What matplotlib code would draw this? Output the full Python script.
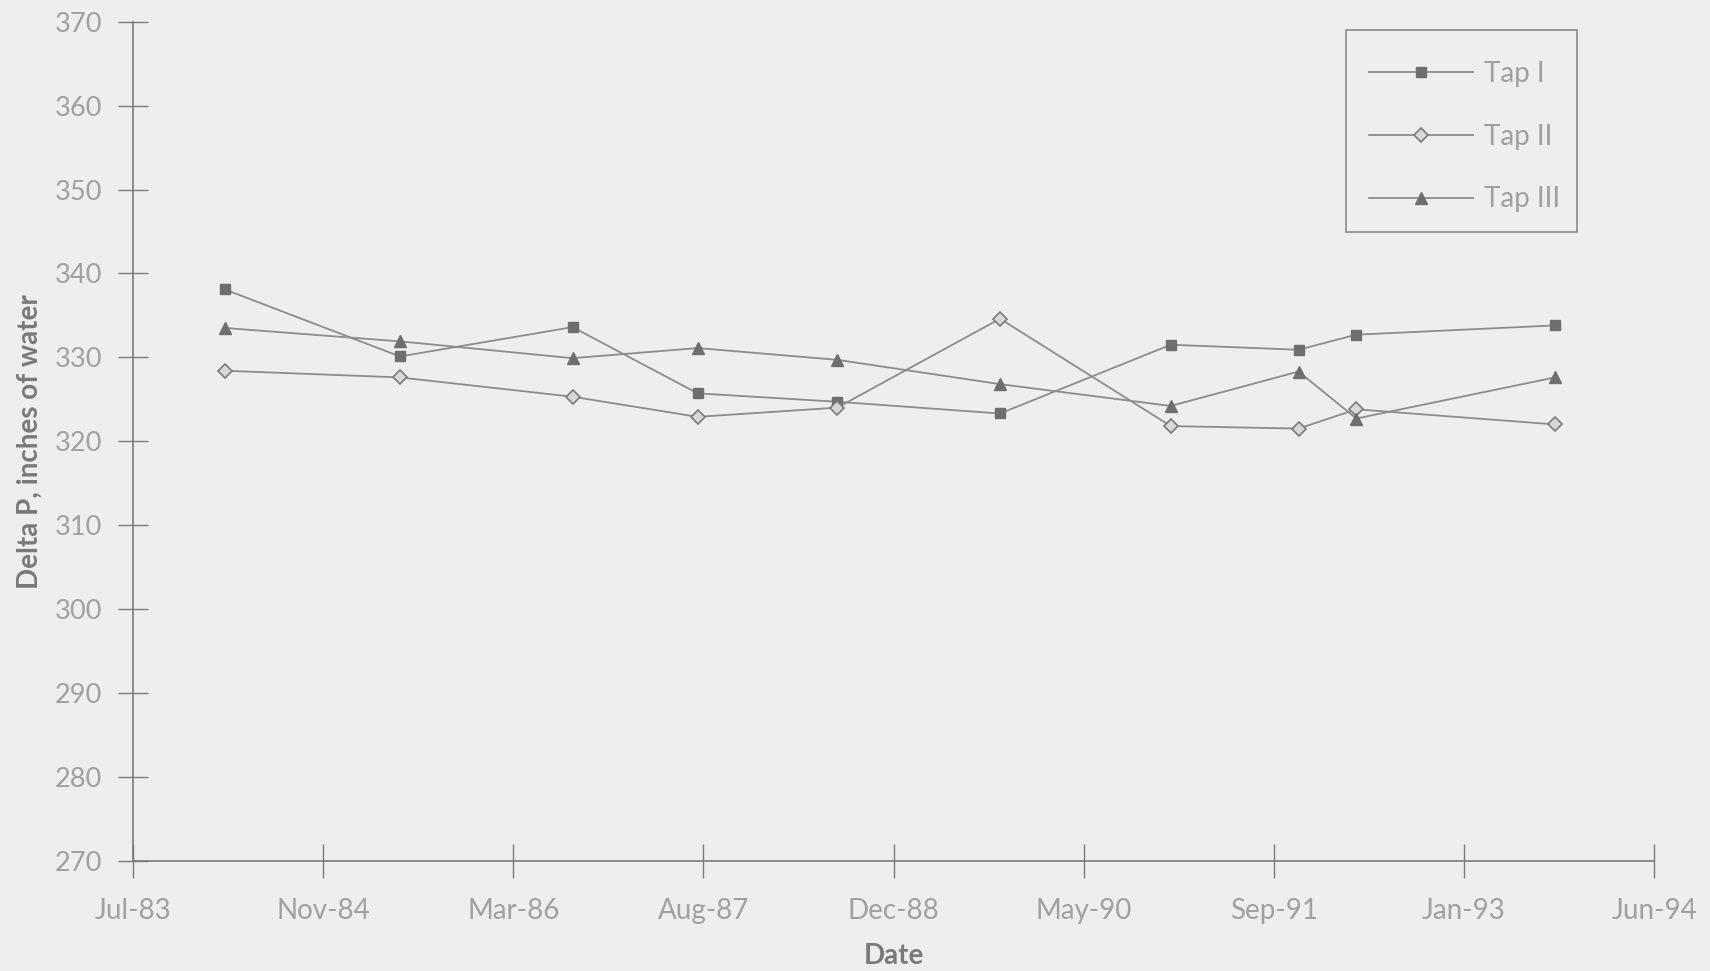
import numpy as np
import pandas as pd
import matplotlib
matplotlib.use('Agg')
import matplotlib.pyplot as plt
import matplotlib.dates as mdates
from matplotlib.patches import Rectangle

# fechas de medicion y delta P de cada toma
fechas = ['1984-02-27', '1985-06-02', '1986-08-30', '1987-07-25', '1988-07-26',
          '1989-09-27', '1990-12-20', '1991-11-21', '1992-04-21', '1993-09-25']
tap_1 = [338.1, 330.1, 333.6, 325.7, 324.7, 323.3, 331.5, 330.9, 332.7, 333.8]
tap_2 = [328.4, 327.6, 325.3, 322.9, 324.0, 334.6, 321.8, 321.5, 323.8, 322.0]
tap_3 = [333.5, 331.9, 329.9, 331.1, 329.7, 326.8, 324.2, 328.3, 322.7, 327.6]
nombres = ['Tap I', 'Tap II', 'Tap III']

fechas = pd.to_datetime(fechas)
gris = '#8c8c8c'
texto = '#a0a0a0'
fondo = '#eeeeec'

plt.rcParams['font.family'] = ['Lato', 'DejaVu Sans']

fig = plt.figure(figsize=(17.1, 9.71), dpi=100, facecolor=fondo)
ax = fig.add_axes([0.0778, 0.1138, 0.8895, 0.8637])
ax.set_facecolor(fondo)

ax.plot(fechas, tap_1, color=gris, lw=1.3, marker='s', ms=6.5,
        mfc='#6e6e6e', mec='#6e6e6e', label=nombres[0])
ax.plot(fechas, tap_2, color=gris, lw=1.3, marker='D', ms=7,
        mfc='#d8d8d8', mec='#7a7a7a', mew=1.2, label=nombres[1])
ax.plot(fechas, tap_3, color=gris, lw=1.3, marker='^', ms=8.5,
        mfc='#6e6e6e', mec='#6e6e6e', label=nombres[2])

# eje de fechas: marcas cada 500 dias desde julio de 1983
inicio = pd.Timestamp('1983-07-01')
marcas = [inicio + pd.Timedelta(days=500 * i) for i in range(9)]
ax.set_xlim(marcas[0], marcas[-1])
ax.set_xticks(marcas)
ax.xaxis.set_major_formatter(mdates.DateFormatter('%b-%y'))

ax.set_ylim(270, 370)
ax.set_yticks(np.arange(270, 371, 10))

for lado in ['top', 'right']:
    ax.spines[lado].set_visible(False)
for lado in ['left', 'bottom']:
    ax.spines[lado].set_color('#7a7a7a')
    ax.spines[lado].set_linewidth(1.2)

ax.tick_params(axis='x', direction='inout', length=24, width=1, color='#7a7a7a',
               pad=15, labelsize=20, labelcolor=texto)
ax.tick_params(axis='y', direction='inout', length=22, width=1, color='#7a7a7a',
               pad=11, labelsize=19.5, labelcolor=texto)

ax.set_xlabel('Date', fontsize=20, fontweight='bold', color='#7a7a7a', labelpad=14)
ax.set_ylabel('Delta P, inches of water', fontsize=20, fontweight='bold',
              color='#7a7a7a')
ax.yaxis.set_label_coords(-0.059, 0.5)

# leyenda sin marco propio; el recuadro va aparte
leg = ax.legend(loc='upper left', bbox_to_anchor=(1358 / 1710, 1 - 49.5 / 971),
                bbox_transform=fig.transFigure, fontsize=20, frameon=False,
                handlelength=3.75, labelspacing=1.33, borderpad=0.4,
                handletextpad=0.4, borderaxespad=0)
for t in leg.get_texts():
    t.set_color(texto)

marco = Rectangle((1346 / 1710, 1 - 232 / 971), 231 / 1710, 201.5 / 971,
                  transform=fig.transFigure, fill=False, edgecolor='#8a8a8a',
                  linewidth=1.2)
fig.patches.append(marco)

plt.savefig('out.png', dpi=100, facecolor=fondo)
